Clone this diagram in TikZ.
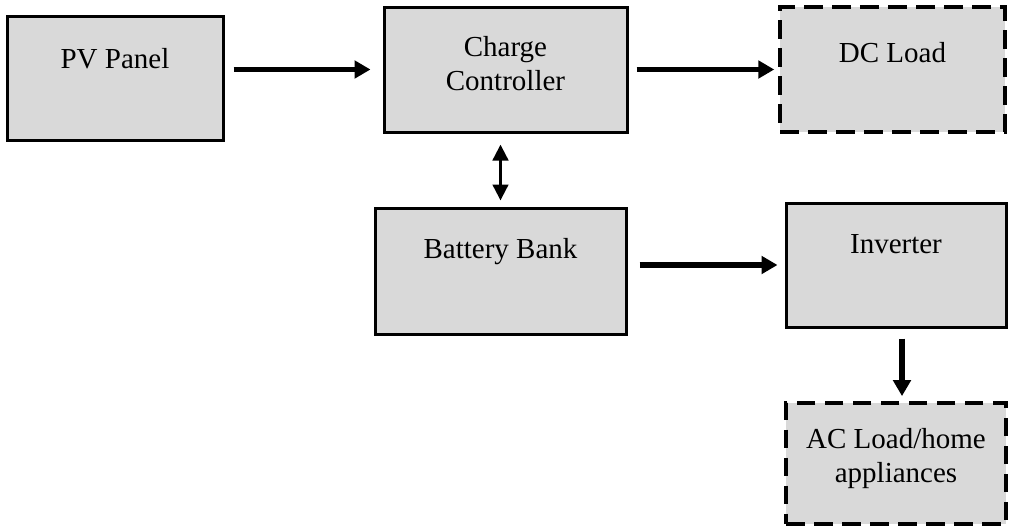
\documentclass[tikz,border=0pt]{standalone}
\usepackage{fontspec}
\setmainfont{Liberation Serif}
\usetikzlibrary{calc, arrows.meta}
\definecolor{boxgray}{HTML}{D9D9D9}
\tikzset{
  block/.style={draw, line width=2.25pt, fill=boxgray, inner sep=0pt, align=center,
    font=\fontsize{21.75pt}{25.5pt}\selectfont},
  loadblock/.style={block, line width=2.6pt, dash pattern=on 14pt off 7pt},
  flow/.style={line width=4pt, -{Triangle[length=12pt, width=13pt]}},
  twoway/.style={line width=2.6pt, {Triangle[length=12pt, width=11.5pt]}-{Triangle[length=12pt, width=11.5pt]}}
}
\begin{document}
\begin{tikzpicture}[x=0.75pt, y=-0.75pt]
\useasboundingbox (0, 0) rectangle (1011, 526);
\node at (115, 78) [name=pv, block, minimum width=162pt, text height=39pt, text depth=54pt] {PV Panel};
\node at (505.5, 69.5) [name=cc, block, minimum width=182.25pt, text height=62.25pt, text depth=31.5pt] {Charge\\Controller};
\node at (892.5, 69.5) [name=dc, loadblock, minimum width=168.75pt, text height=41.25pt, text depth=52.5pt] {DC Load};
\node at (500.5, 271) [name=bat, block, minimum width=188.25pt, text height=37.5pt, text depth=57pt] {Battery Bank};
\node at (896, 265) [name=inv, block, minimum width=165pt, text height=37.5pt, text depth=55.5pt] {Inverter};
\node at (896, 463.5) [name=ac, loadblock, minimum width=165pt, text height=60pt, text depth=31pt] {AC Load/home\\appliances};
\draw [flow] ($(pv.east |- cc.west)+(9, 0)$) -- ($(cc.west)+(-12, 0)$);
\draw [flow] ($(cc.east)+(8, 0)$) -- ($(dc.west)+(-4, 0)$);
\draw [twoway] ($(bat.north |- cc.south)+(0, 11)$) -- ($(bat.north)+(0, -6)$);
\draw [flow] ($(bat.east |- inv.west)+(12, 0)$) -- ($(inv.west)+(-7, 0)$);
\draw [flow] ($(inv.south)+(6, 10)$) -- ($(inv.south |- ac.north)+(6, -5)$);
\end{tikzpicture}
\end{document}
